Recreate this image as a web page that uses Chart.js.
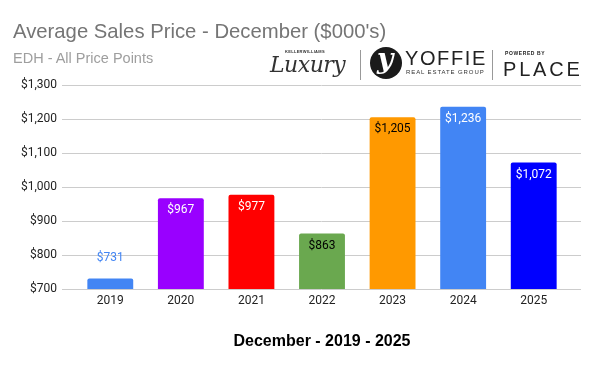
<!DOCTYPE html>
<html><head><meta charset="utf-8">
<script src="https://cdn.jsdelivr.net/npm/chart.js@4.4.1/dist/chart.umd.min.js"></script>
<style>
html,body{margin:0;padding:0;background:#fff;}
#wrap{position:relative;width:600px;height:371px;overflow:hidden;}
canvas{position:absolute;left:0;top:0;}
.t{position:absolute;white-space:nowrap;}
</style></head><body>
<div id="wrap">
<canvas id="c" width="600" height="371"></canvas>
<div class="t" style="left:13px;top:20px;font:20.3px 'Liberation Sans',Arial,sans-serif;color:#757575;">Average Sales Price - December ($000's)</div>
<div class="t" style="left:13px;top:50px;font:14.5px 'Liberation Sans',Arial,sans-serif;color:#9e9e9e;">EDH - All Price Points</div>
<div class="t" style="left:285px;top:49px;font:bold 4px 'Liberation Sans',Arial,sans-serif;color:#333;letter-spacing:0.3px;">KELLERWILLIAMS</div>
<div class="t" style="left:270px;top:52px;font:italic 22px 'DejaVu Serif',serif;color:#333;letter-spacing:-0.5px;">Luxury</div>
<div class="t" style="left:360px;top:50px;width:1px;height:30px;background:#999;"></div>
<div class="t" style="left:370px;top:47px;width:32px;height:32px;border-radius:50%;background:#1a1a1a;"></div>
<div class="t" style="left:377px;top:42px;font:italic bold 28px 'DejaVu Serif',serif;color:#fff;">y</div>
<div class="t" style="left:405px;top:47px;font:20px 'Liberation Sans',Arial,sans-serif;color:#222;letter-spacing:1.6px;">YOFFIE</div>
<div class="t" style="left:406px;top:69px;font:6px 'Liberation Sans',Arial,sans-serif;color:#333;letter-spacing:0.9px;">REAL ESTATE GROUP</div>
<div class="t" style="left:492px;top:50px;width:1px;height:30px;background:#999;"></div>
<div class="t" style="left:505px;top:50px;font:bold 5px 'Liberation Sans',Arial,sans-serif;color:#222;letter-spacing:0.6px;">POWERED BY</div>
<div class="t" style="left:503px;top:58px;font:20px 'Liberation Sans',Arial,sans-serif;color:#222;letter-spacing:2.8px;">PLACE</div>
<div class="t" style="left:0;width:644px;top:332px;text-align:center;font:bold 16px 'Liberation Sans',Arial,sans-serif;color:#000;">December - 2019 - 2025</div>
</div>
<script>
const categories = ['2019','2020','2021','2022','2023','2024','2025'];
const values = [731, 967, 977, 863, 1205, 1236, 1072];
const barColors = ['#4285F4','#9900FF','#FF0000','#6AA84F','#FF9900','#4285F4','#0000FF'];
const labelColors = ['#4285F4','#ffffff','#ffffff','#000000','#000000','#ffffff','#ffffff'];
const labelInside = [false,true,true,true,true,true,true];
const yTicks = [700,800,900,1000,1100,1200,1300];

function fmt(v){ return '$' + v.toLocaleString('en-US'); }

const gridPlugin = {
  id:'extGrid',
  beforeDatasetsDraw(chart){
    const ctx = chart.ctx, y = chart.scales.y, a = chart.chartArea;
    ctx.save();
    ctx.strokeStyle = '#cccccc'; ctx.lineWidth = 1;
    yTicks.forEach(t=>{
      const py = Math.round(y.getPixelForValue(t)) + 0.5;
      ctx.beginPath(); ctx.moveTo(a.left-13, py); ctx.lineTo(a.right+12, py); ctx.stroke();
    });
    ctx.restore();
  }
};
const labelPlugin = {
  id:'barLabels',
  afterDatasetsDraw(chart){
    const ctx = chart.ctx;
    const meta = chart.getDatasetMeta(0);
    ctx.save();
    ctx.font = "12px Roboto, 'Liberation Sans', sans-serif";
    ctx.textAlign = 'center'; ctx.textBaseline = 'middle';
    meta.data.forEach((bar,i)=>{
      ctx.fillStyle = labelColors[i];
      const y = labelInside[i] ? bar.y + 12 : bar.y - 20;
      ctx.fillText(fmt(values[i]), bar.x, y);
    });
    ctx.restore();
  }
};

new Chart(document.getElementById('c'), {
  type:'bar',
  data:{ labels:categories, datasets:[{ data:values, backgroundColor:barColors, borderRadius:{topLeft:2,topRight:2}, borderSkipped:'bottom', categoryPercentage:1, barPercentage:0.65 }] },
  options:{
    responsive:false, animation:false,
    layout:{ padding:{ top:85, right:31, bottom:0, left:0 } },
    plugins:{ legend:{display:false}, tooltip:{enabled:false}, title:{display:false} },
    scales:{
      x:{
        grid:{ display:false, drawTicks:false },
        border:{ display:false },
        ticks:{ color:'#222', font:{ family:"Roboto, 'Liberation Sans', sans-serif", size:12 }, padding:5 },
        afterFit(s){ s.height = 82; }
      },
      y:{
        min:700, max:1300,
        grid:{ display:false, drawTicks:false },
        border:{ display:false },
        afterBuildTicks(s){ s.ticks = yTicks.map(v=>({value:v})); },
        ticks:{ color:'#222', font:{ family:"Roboto, 'Liberation Sans', sans-serif", size:12 }, padding:18, callback:(v)=>fmt(v) },
        afterFit(s){ s.width = 75; }
      }
    }
  },
  plugins:[gridPlugin, labelPlugin]
});
</script>
</body></html>
